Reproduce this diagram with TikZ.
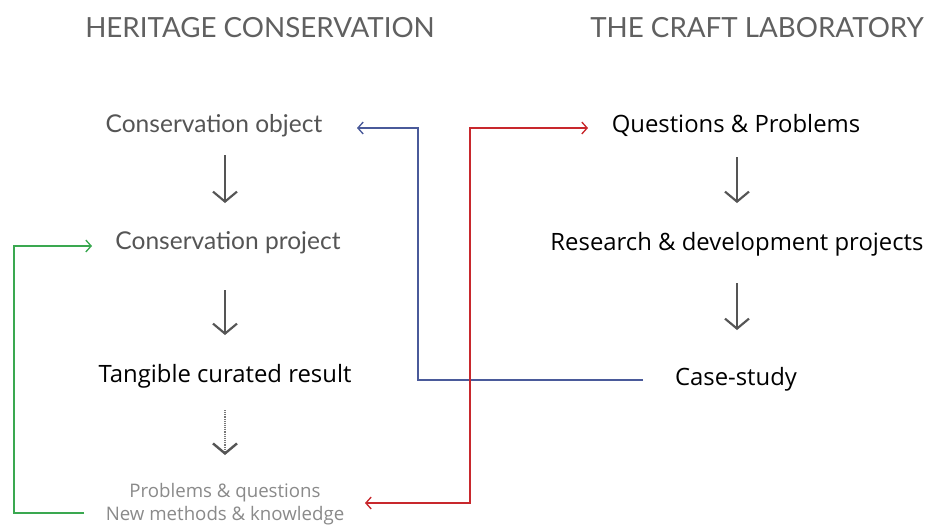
\documentclass[tikz,border=0pt]{standalone}
\usepackage{fontspec}
\setmainfont{Open Sans}
\newfontfamily\latofont{Lato}
\usetikzlibrary{arrows.meta}
\definecolor{hdrgray}{HTML}{606060}
\definecolor{midgray}{HTML}{555555}
\definecolor{lightgray}{HTML}{8A8A8A}
\definecolor{bluel}{HTML}{4A5A9A}
\definecolor{redl}{HTML}{C8282D}
\definecolor{greenl}{HTML}{3AA850}
\tikzset{
  hdr/.style={text=hdrgray, font=\latofont\fontsize{20.8pt}{24pt}\selectfont, inner sep=0pt},
  consv/.style={text=midgray, font=\latofont\fontsize{18.4pt}{22pt}\selectfont, inner sep=0pt},
  item/.style={text=black, font=\fontsize{17.9pt}{21pt}\selectfont, inner sep=0pt},
  faint/.style={text=lightgray, font=\fontsize{14pt}{17pt}\selectfont, inner sep=0pt, align=center},
  flow/.style={draw=midgray, line width=1.6pt, -{Straight Barb[length=7.5pt,width=18pt,line width=1.6pt]}},
  dflow/.style={draw=midgray!80, line width=1.8pt, dash pattern=on 0.7pt off 0.7pt, -{Straight Barb[length=7.5pt,width=18pt,line width=1.8pt,color=midgray]}},
  link/.style={line width=1pt, -{Straight Barb[length=4pt,width=9pt,line width=1pt]}},
}
\begin{document}
\begin{tikzpicture}[x=0.75pt,y=-0.75pt]
\useasboundingbox[fill=white] (0,0) rectangle (926,526);
\node[hdr] (h1) at (260,28) {HERITAGE CONSERVATION};
\node[hdr] (h2) at (757,28) {THE CRAFT LABORATORY};

\node[consv] (co) at (214,126) {Conservation object};
\node[consv] (cp) at (228,243) {Conservation project};
\node[item] (tc) at (225,376) {Tangible curated result};
\node[faint] (pq) at (225,504) {Problems \& questions\\New methods \& knowledge};

\node[item] (qp) at (736,125) {Questions \& Problems};
\node[item] (rd) at (737,244) {Research \& development projects};
\node[item] (cs) at (736,379) {Case-study};

\coordinate (a1s) at (225,155); \coordinate (a1e) at (225,203);
\coordinate (a2s) at (225,290); \coordinate (a2e) at (225,335);
\coordinate (a3s) at (225,410); \coordinate (a3e) at (225,455);
\coordinate (b1s) at (737,157); \coordinate (b1e) at (737,203);
\coordinate (b2s) at (737,283); \coordinate (b2e) at (737,330);
\draw[flow] (a1s) -- (a1e);
\draw[flow] (a2s) -- (a2e);
\draw[dflow] (a3s) -- (a3e);
\draw[flow] (b1s) -- (b1e);
\draw[flow] (b2s) -- (b2e);

% blue
\coordinate (bs) at (643,380);
\coordinate (be) at (357,128);
\draw[link, draw=bluel] (bs) -- (418,380) -- (418,128) -- (be);
% red
\coordinate (rs) at (365,503);
\coordinate (re) at (588,128);
\draw[link, draw=redl, {Straight Barb[length=4pt,width=9pt,line width=1pt]}-{Straight Barb[length=4pt,width=9pt,line width=1pt]}] (rs) -- (470,503) -- (470,128) -- (re);
% green
\coordinate (gs) at (84,513);
\coordinate (ge) at (92,246);
\draw[link, draw=greenl] (gs) -- (14,513) -- (14,246) -- (ge);
\end{tikzpicture}
\end{document}
